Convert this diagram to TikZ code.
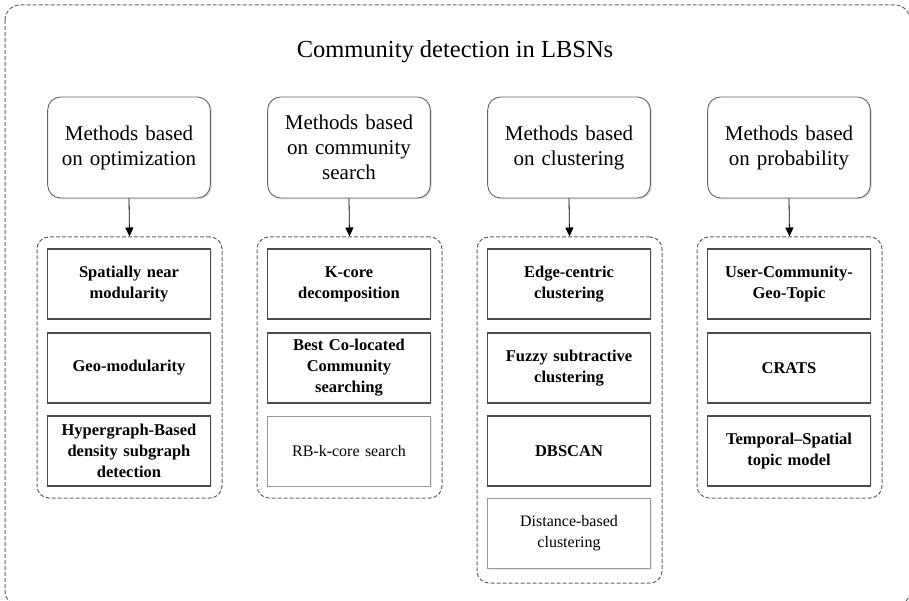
\documentclass[tikz,border=0pt]{standalone}
\usepackage{fontspec}
\setmainfont{Liberation Serif}
\usetikzlibrary{arrows.meta,shadows}
\begin{document}
\begin{tikzpicture}[x=1pt,y=-1pt,
  catbox/.style={draw=black!60, line width=0.9pt, rounded corners=13pt,
    minimum width=162pt, minimum height=101pt, text width=156pt, align=center,
    font=\fontsize{21}{25}\selectfont, fill=white,
    drop shadow={shadow xshift=1.5pt, shadow yshift=-1.5pt, fill=black!25, opacity=0.5}},
  methbox/.style={draw=black!70, line width=1.1pt, minimum width=162pt,
    minimum height=70pt, text width=156pt, align=center,
    font=\fontsize{16.5}{21}\selectfont\bfseries, fill=white,
    drop shadow={shadow xshift=1.2pt, shadow yshift=-1.2pt, fill=black!20, opacity=0.4}},
  lightbox/.style={methbox, draw=black!40, line width=0.8pt,
    font=\fontsize{16}{21}\selectfont},
  groupbox/.style={draw=black!60, dash pattern=on 4pt off 2pt, line width=1pt,
    rounded corners=12pt, minimum width=185pt, inner sep=0pt},
  flow/.style={-{Triangle[length=9pt,width=8pt]}, line width=0.8pt, black}
]
\useasboundingbox (0,0) rectangle (909,601);
\clip (0,0) rectangle (909,601);

% outer frame
\draw[draw=black!60, dash pattern=on 4pt off 2pt, line width=1pt, rounded corners=15pt]
  (5,5) rectangle (910,606);

\node[font=\fontsize{24.5}{28}\selectfont] (title) at (455,52) {Community detection in LBSNs};

% category boxes
\node[catbox] (c1) at (129,147.5) {Methods based\\on optimization};
\node[catbox] (c2) at (349,147.5) {Methods based\\on community\\search};
\node[catbox] (c3) at (569,147.5) {Methods based\\on clustering};
\node[catbox] (c4) at (789,147.5) {Methods based\\on probability};

% dashed groups
\node[groupbox, minimum height=261pt] (g1) at (129.5,367.5) {};
\node[groupbox, minimum height=261pt] (g2) at (349.5,367.5) {};
\node[groupbox, minimum height=346pt] (g3) at (569.5,410) {};
\node[groupbox, minimum height=261pt] (g4) at (789.5,367.5) {};

\foreach \i in {1,2,3,4} \draw[flow] (c\i.south) -- (g\i.north);

% optimization
\node[methbox] (o1) at (129,284) {Spatially near\\modularity};
\node[methbox] (o2) at (129,368) {Geo-modularity};
\node[methbox] (o3) at (129,451) {Hypergraph-Based\\density subgraph\\detection};

% community search
\node[methbox] (s1) at (349,284) {K-core\\decomposition};
\node[methbox] (s2) at (349,368) {Best Co-located\\Community\\searching};
\node[lightbox] (s3) at (349,451) {RB-k-core search};

% clustering
\node[methbox] (k1) at (569,284) {Edge-centric\\clustering};
\node[methbox] (k2) at (569,368) {Fuzzy subtractive\\clustering};
\node[methbox] (k3) at (569,451) {DBSCAN};
\node[lightbox] (k4) at (569,533.5) {Distance-based\\clustering};

% probability
\node[methbox] (p1) at (789,284) {User-Community-\\Geo-Topic};
\node[methbox] (p2) at (789,368) {CRATS};
\node[methbox] (p3) at (789,451) {Temporal–Spatial\\topic model};
\end{tikzpicture}
\end{document}
